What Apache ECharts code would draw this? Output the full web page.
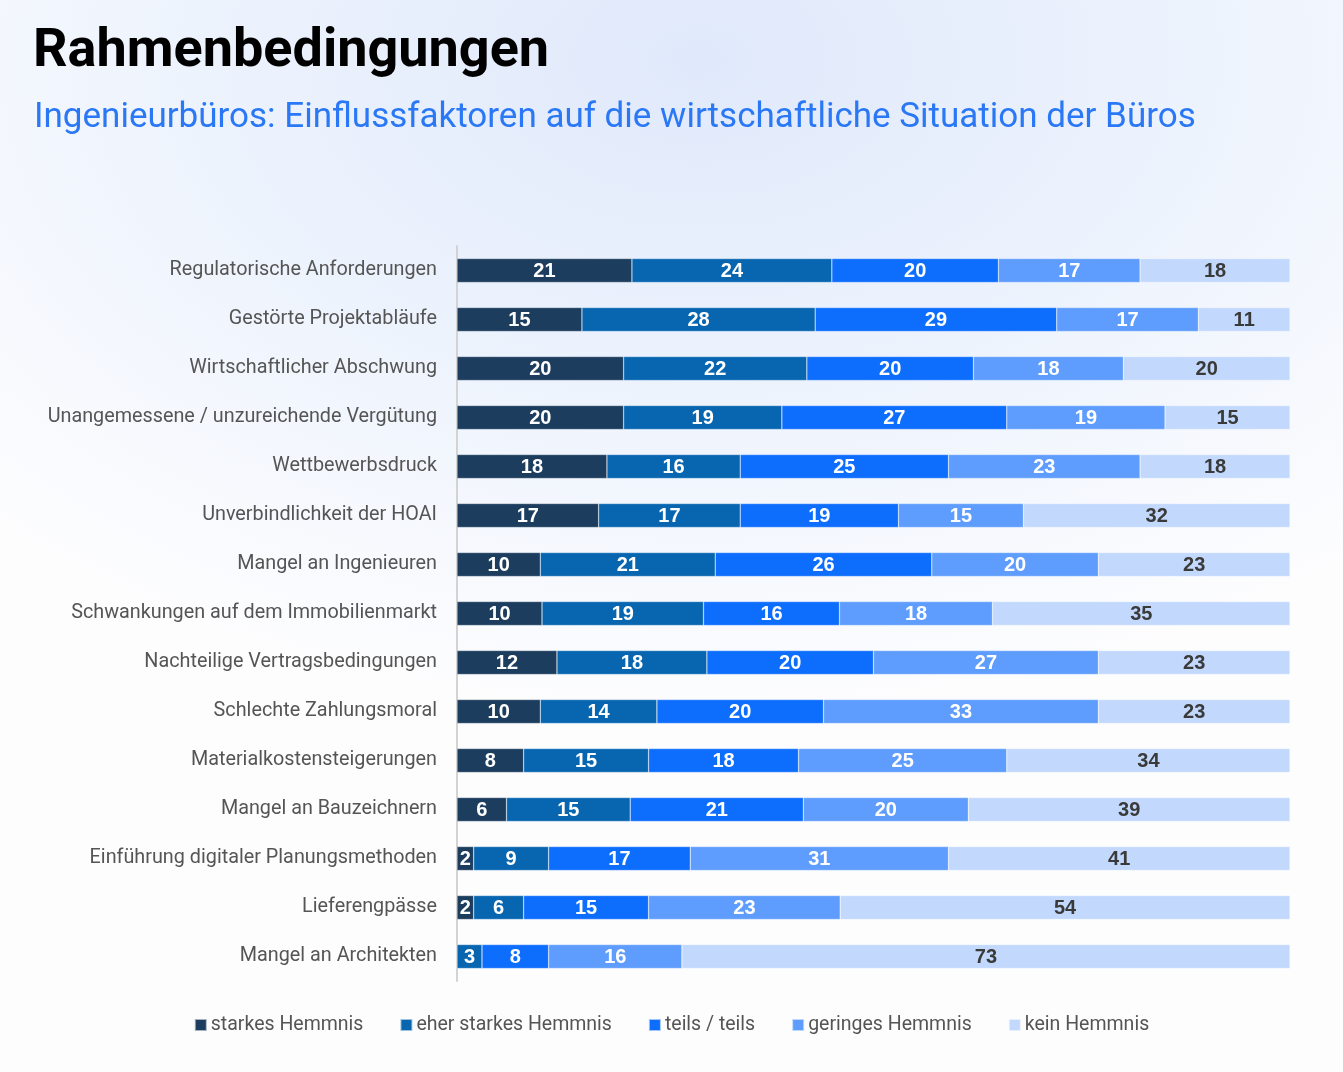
<!DOCTYPE html>
<html>
<head>
<meta charset="utf-8">
<title>Rahmenbedingungen</title>
<script src="https://cdn.jsdelivr.net/npm/echarts@6/dist/echarts.min.js"></script>
<style>
  html, body { margin: 0; padding: 0; }
  body {
    width: 1343px; height: 1072px;
    background: radial-gradient(ellipse 1000px 650px at 700px 60px, #e0e9fb 0%, #edf3fd 50%, #fdfdfe 100%);
  }
  #main { width: 1343px; height: 1072px; }
</style>
</head>
<body>
<div id="main"></div>
<script>
// Kategorien (von oben nach unten)
var categories = [
  'Regulatorische Anforderungen',
  'Gestörte Projektabläufe',
  'Wirtschaftlicher Abschwung',
  'Unangemessene / unzureichende Vergütung',
  'Wettbewerbsdruck',
  'Unverbindlichkeit der HOAI',
  'Mangel an Ingenieuren',
  'Schwankungen auf dem Immobilienmarkt',
  'Nachteilige Vertragsbedingungen',
  'Schlechte Zahlungsmoral',
  'Materialkostensteigerungen',
  'Mangel an Bauzeichnern',
  'Einführung digitaler Planungsmethoden',
  'Lieferengpässe',
  'Mangel an Architekten'
];

var seriesNames = ['starkes Hemmnis', 'eher starkes Hemmnis', 'teils / teils', 'geringes Hemmnis', 'kein Hemmnis'];

// Werte in Prozent
var starkes      = [21, 15, 20, 20, 18, 17, 10, 10, 12, 10,  8,  6,  2,  2,  0];
var eherStarkes  = [24, 28, 22, 19, 16, 17, 21, 19, 18, 14, 15, 15,  9,  6,  3];
var teilsTeils   = [20, 29, 20, 27, 25, 19, 26, 16, 20, 20, 18, 21, 17, 15,  8];
var geringes     = [17, 17, 18, 19, 23, 15, 20, 18, 27, 33, 25, 20, 31, 23, 16];
var kein         = [18, 11, 20, 15, 18, 32, 23, 35, 23, 23, 34, 39, 41, 54, 73];

var colors = ['#1c3d5e', '#0866b0', '#0d6efd', '#5e9dfd', '#c2d9fd'];

var rows = [starkes, eherStarkes, teilsTeils, geringes, kein];

// Zeilensummen (gerundete Werte ergeben nicht immer 100) -> auf 100 % normieren
var sums = categories.map(function (c, i) {
  var s = 0;
  rows.forEach(function (r) { s += r[i]; });
  return s;
});

var myChart = echarts.init(document.getElementById('main'));

var series = rows.map(function (r, k) {
  return {
    name: seriesNames[k],
    type: 'bar',
    stack: 'total',
    barWidth: 24,
    itemStyle: { color: colors[k], borderColor: 'rgba(255,255,255,0.6)', borderWidth: 0.5 },
    label: {
      show: true,
      position: 'inside',
      offset: [0, 1],
      color: k === 4 ? '#3a3a3a' : '#ffffff',
      fontFamily: 'Liberation Sans, Arial, sans-serif',
      fontWeight: 'bold',
      fontSize: 20,
      formatter: function (p) { return r[p.dataIndex] > 0 ? r[p.dataIndex] : ''; }
    },
    data: r.map(function (v, i) { return v * 100 / sums[i]; })
  };
});

var option = {
  animation: false,
  title: [{
    text: 'Rahmenbedingungen',
    left: 28,
    top: 20,
    textStyle: { color: '#000', fontSize: 54, fontWeight: 'bold', fontFamily: 'Roboto' }
  }, {
    text: 'Ingenieurbüros: Einflussfaktoren auf die wirtschaftliche Situation der Büros',
    left: 29,
    top: 96,
    textStyle: { color: '#2b78f6', fontSize: 35, fontWeight: 'normal', fontFamily: 'Roboto' }
  }],
  legend: {
    data: seriesNames,
    bottom: 32,
    left: 'center',
    icon: 'rect',
    itemWidth: 12,
    itemHeight: 12,
    itemGap: 36,
    textStyle: { color: '#555', fontSize: 19.5, fontFamily: 'Roboto', padding: [0, 0, 0, -1] }
  },
  grid: { left: 457, right: 53, top: 246, height: 735, containLabel: false },
  xAxis: {
    type: 'value',
    min: 0,
    max: 100,
    show: false
  },
  yAxis: {
    type: 'category',
    inverse: true,
    data: categories,
    axisLine: { show: true, lineStyle: { color: '#d3d3d3', width: 2 } },
    axisTick: { show: false },
    axisLabel: { color: '#555', fontSize: 19.8, fontFamily: 'Roboto', margin: 20, padding: [6, 0, 0, 0] }
  },
  series: series
};

myChart.setOption(option);
</script>
</body>
</html>
